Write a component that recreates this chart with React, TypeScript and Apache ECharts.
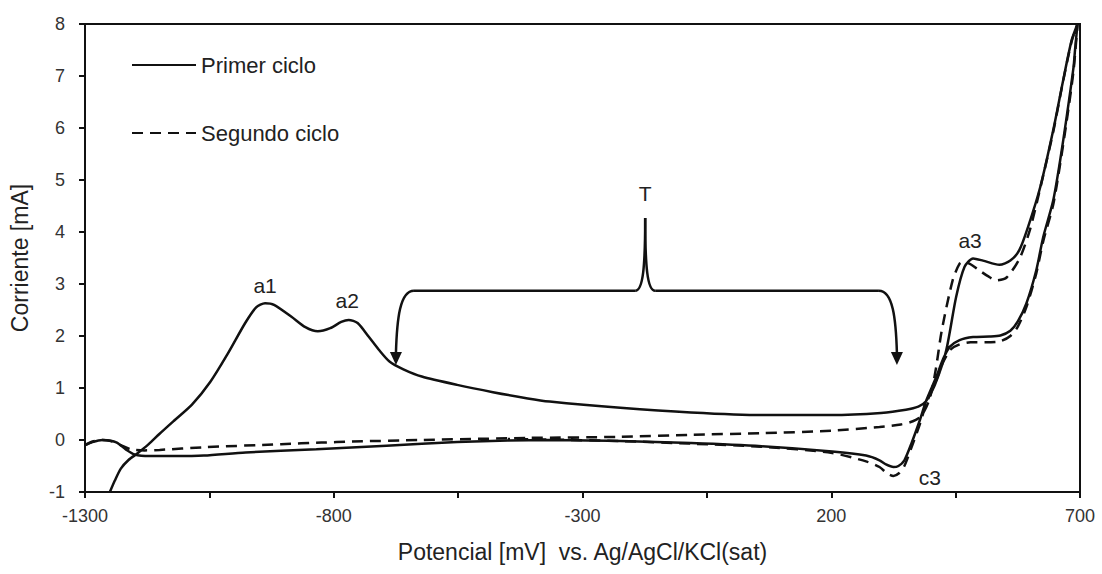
import React, { useEffect, useRef } from "react";
import * as echarts from "echarts";

const FONT = "'Liberation Sans', Arial, sans-serif";

const seriesNames = ["Primer ciclo", "Segundo ciclo"];

// [potential mV, current mA] in scan order
const firstCycle: [number, number][] = [
  [-1250, -1.0], [-1240, -0.78], [-1228, -0.55], [-1212, -0.38], [-1195, -0.26],
  [-1172, -0.08], [-1150, 0.12], [-1120, 0.38], [-1085, 0.68], [-1048, 1.12],
  [-1013, 1.66], [-978, 2.25], [-956, 2.55], [-938, 2.63], [-920, 2.6],
  [-885, 2.37], [-857, 2.17], [-832, 2.09], [-807, 2.15], [-785, 2.27],
  [-770, 2.31], [-752, 2.25], [-730, 1.99], [-708, 1.72], [-688, 1.51],
  [-660, 1.36], [-623, 1.22], [-552, 1.06], [-480, 0.92], [-410, 0.8],
  [-366, 0.74], [-224, 0.62], [-82, 0.53], [60, 0.48], [200, 0.48],
  [300, 0.52], [350, 0.58], [375, 0.64], [390, 0.74], [408, 1.05],
  [431, 1.72], [451, 2.75], [468, 3.33], [485, 3.49], [505, 3.45],
  [538, 3.37], [560, 3.45], [578, 3.65], [595, 4.08], [620, 4.86],
  [646, 5.95], [666, 6.91], [683, 7.68], [695, 8.0],
  [690, 7.5], [687, 7.17], [673, 6.2], [660, 5.37], [646, 4.6],
  [626, 3.9], [612, 3.26], [592, 2.62], [575, 2.28], [560, 2.1],
  [540, 2.01], [518, 1.99], [485, 1.98], [458, 1.92], [438, 1.79],
  [425, 1.56], [411, 1.21], [391, 0.76], [378, 0.38], [361, -0.07],
  [347, -0.39], [335, -0.5], [325, -0.52], [310, -0.47], [297, -0.39],
  [270, -0.3], [202, -0.22], [60, -0.12], [-82, -0.06], [-224, -0.02],
  [-366, 0.0], [-450, -0.01], [-552, -0.04], [-694, -0.11], [-835, -0.18],
  [-977, -0.24], [-1061, -0.3], [-1119, -0.31], [-1170, -0.31], [-1200, -0.28],
  [-1218, -0.18], [-1236, -0.05], [-1252, -0.01], [-1265, 0.0], [-1285, -0.04],
  [-1300, -0.1],
];

const secondCycle: [number, number][] = [
  [-1300, -0.1], [-1285, -0.03], [-1265, 0.0], [-1248, -0.02], [-1228, -0.1],
  [-1208, -0.18], [-1180, -0.2], [-1150, -0.19], [-1061, -0.14], [-906, -0.08],
  [-825, -0.05], [-764, -0.03], [-623, 0.0], [-410, 0.04], [-224, 0.06],
  [-82, 0.1], [60, 0.13], [202, 0.18], [297, 0.25], [340, 0.3],
  [364, 0.36], [381, 0.46], [398, 0.8], [410, 1.35], [422, 2.1],
  [444, 3.07], [458, 3.39], [467, 3.43], [480, 3.38], [495, 3.28],
  [515, 3.15], [532, 3.07], [553, 3.13], [579, 3.5], [599, 4.03],
  [620, 4.84], [646, 5.92], [666, 6.9], [683, 7.66], [695, 8.0],
  [687, 7.1], [673, 6.12], [660, 5.3], [646, 4.52], [626, 3.82],
  [612, 3.2], [592, 2.55], [575, 2.18], [560, 2.0], [540, 1.9],
  [510, 1.88], [480, 1.88], [458, 1.84], [440, 1.74], [425, 1.5],
  [411, 1.15], [391, 0.7], [378, 0.3], [361, -0.15], [347, -0.5],
  [336, -0.64], [325, -0.69], [312, -0.64], [297, -0.52], [273, -0.42],
  [202, -0.25], [60, -0.13], [-82, -0.07], [-224, -0.02], [-366, 0.01],
  [-450, 0.02],
];

// peak annotations: [label, potential, current]
const peakLabels: [string, number, number][] = [
  ["a1", -938, 2.98],
  ["a2", -773, 2.69],
  ["a3", 479, 3.83],
  ["c3", 398, -0.73],
];

// bracket "T"
const bracketLabel = "T";
const bracketLevel = 2.87;
const bracketLeft = -675;
const bracketRight = 332;
const bracketArrowTip = 1.44;
const bracketPeak: [number, number] = [-174, 4.27];
const bracketLabelY = 4.75;

const X_MIN = -1300;
const X_MAX = 700;
const X_STEP = 250;
const X_LABEL_STEP = 500;
const Y_MIN = -1;
const Y_MAX = 8;

export default function App() {
  const ref = useRef<HTMLDivElement>(null);

  useEffect(() => {
    document.body.style.margin = "0";
    if (!ref.current) return;
    const chart = echarts.init(ref.current, null, { renderer: "svg" });
    const ink = "#111";
    chart.setOption({
      animation: false,
      backgroundColor: "#fff",
      grid: {
        left: 84,
        right: 22,
        top: 24,
        bottom: 82,
        show: true,
        borderColor: "#111",
        borderWidth: 2,
      },
      legend: {
        orient: "vertical",
        left: 126,
        top: 49,
        itemWidth: 64,
        itemHeight: 14,
        itemGap: 46,
        data: seriesNames,
        itemStyle: { opacity: 0 },
        textStyle: { fontSize: 22, color: "#222", fontFamily: FONT },
      },
      xAxis: {
        type: "value",
        min: X_MIN,
        max: X_MAX,
        interval: X_STEP,
        name: "Potencial [mV]  vs. Ag/AgCl/KCl(sat)",
        nameLocation: "middle",
        nameGap: 48,
        nameTextStyle: { fontSize: 23, color: "#222", fontFamily: FONT },
        axisLine: { onZero: false, lineStyle: { color: ink, width: 2 } },
        axisTick: { show: true, length: 6, lineStyle: { color: ink, width: 2 } },
        axisLabel: {
          fontSize: 18,
          color: "#333",
          fontFamily: FONT,
          margin: 15,
          formatter: (v: number) =>
            (Math.round(v) - X_MIN) % X_LABEL_STEP === 0 ? String(Math.round(v)) : "",
        },
        splitLine: { show: false },
      },
      yAxis: {
        type: "value",
        min: Y_MIN,
        max: Y_MAX,
        interval: 1,
        name: "Corriente [mA]",
        nameLocation: "middle",
        nameGap: 54,
        nameTextStyle: { fontSize: 23, color: "#222", fontFamily: FONT },
        axisLine: { onZero: false, lineStyle: { color: ink, width: 2 } },
        axisTick: { show: true, length: 6, lineStyle: { color: ink, width: 2 } },
        axisLabel: { fontSize: 18, color: "#333", fontFamily: FONT, margin: 20 },
        splitLine: { show: false },
      },
      series: [
        {
          name: seriesNames[0],
          type: "line",
          data: firstCycle,
          showSymbol: false,
          symbol: "none",
          smooth: 0.25,
          lineStyle: { color: ink, width: 2.5, type: "solid" },
          itemStyle: { color: ink },
          z: 3,
        },
        {
          name: seriesNames[1],
          type: "line",
          data: secondCycle,
          showSymbol: false,
          symbol: "none",
          smooth: 0.25,
          lineStyle: { color: ink, width: 2.5, type: [11, 7] },
          itemStyle: { color: ink },
          z: 2,
        },
      ],
    });

    const px = (x: number, y: number) =>
      chart.convertToPixel({ gridIndex: 0 }, [x, y]) as number[];

    const [Lx, Ly] = px(bracketLeft, bracketArrowTip);
    const [Rx, Ry] = px(bracketRight, bracketArrowTip);
    const hy = px(bracketLeft, bracketLevel)[1];
    const [Tx, Ty] = px(bracketPeak[0], bracketPeak[1]);
    const [TLx, TLy] = px(bracketPeak[0], bracketLabelY);
    const stroke = { stroke: ink, lineWidth: 2.5, fill: "none" };
    const ah = 13;
    const aw = 6;

    const textStyle = (t: string, x: number, y: number) => ({
      type: "text",
      x,
      y,
      style: {
        text: t,
        fontSize: 21,
        fontFamily: FONT,
        fill: "#222",
        align: "center",
        verticalAlign: "middle",
      },
      z: 10,
    });

    chart.setOption({
      graphic: [
        ...peakLabels.map(([t, x, y]) => {
          const [a, b] = px(x, y);
          return textStyle(t, a, b);
        }),
        textStyle(bracketLabel, TLx, TLy),
        {
          type: "bezierCurve",
          shape: { x1: Lx, y1: Ly - ah + 1, cpx1: Lx + 1, cpy1: hy + 28, cpx2: Lx + 4, cpy2: hy, x2: Lx + 18, y2: hy },
          style: stroke,
        },
        { type: "line", shape: { x1: Lx + 18, y1: hy, x2: Tx - 10, y2: hy }, style: stroke },
        {
          type: "bezierCurve",
          shape: { x1: Tx - 10, y1: hy, cpx1: Tx - 2, cpy1: hy, cpx2: Tx, cpy2: hy - 25, x2: Tx, y2: Ty },
          style: stroke,
        },
        {
          type: "bezierCurve",
          shape: { x1: Tx, y1: Ty, cpx1: Tx, cpy1: hy - 25, cpx2: Tx + 2, cpy2: hy, x2: Tx + 10, y2: hy },
          style: stroke,
        },
        { type: "line", shape: { x1: Tx + 10, y1: hy, x2: Rx - 18, y2: hy }, style: stroke },
        {
          type: "bezierCurve",
          shape: { x1: Rx - 18, y1: hy, cpx1: Rx - 4, cpy1: hy, cpx2: Rx - 1, cpy2: hy + 28, x2: Rx, y2: Ry - ah + 1 },
          style: stroke,
        },
        {
          type: "polygon",
          shape: { points: [[Lx - aw, Ly - ah], [Lx + aw, Ly - ah], [Lx, Ly]] },
          style: { fill: ink },
        },
        {
          type: "polygon",
          shape: { points: [[Rx - aw, Ry - ah], [Rx + aw, Ry - ah], [Rx, Ry]] },
          style: { fill: ink },
        },
      ],
    });

    return () => chart.dispose();
  }, []);

  return <div ref={ref} style={{ width: 1102, height: 574 }} />;
}
